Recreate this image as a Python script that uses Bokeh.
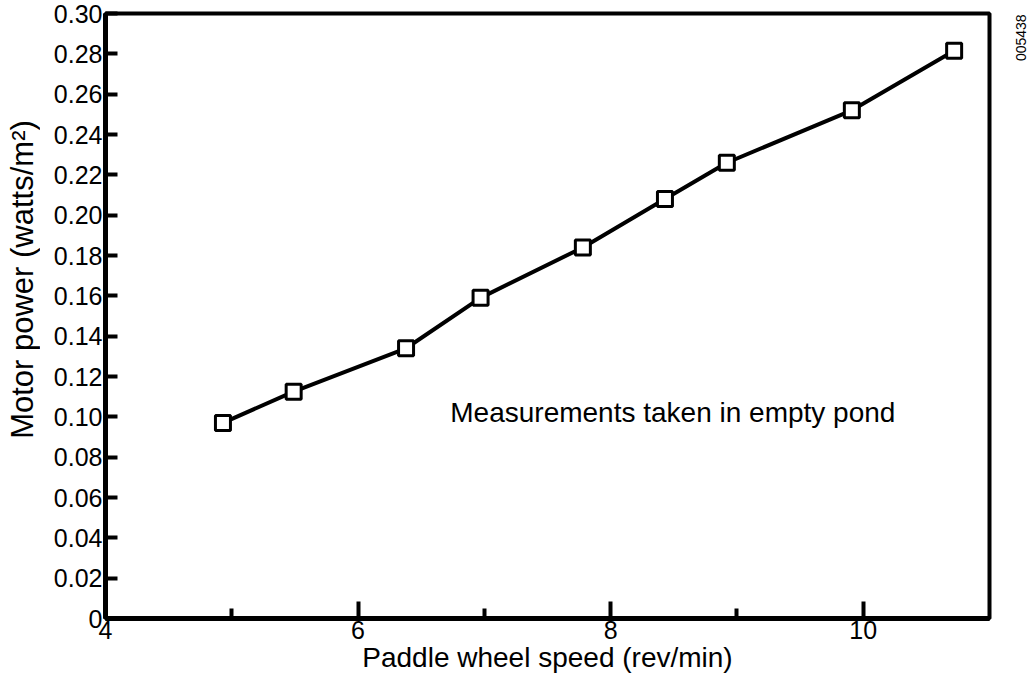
import math
from bokeh.plotting import figure
from bokeh.layouts import row
from bokeh.models import Range1d, FixedTicker, Label, ColumnDataSource
from bokeh.embed import file_html
from bokeh.resources import INLINE

# Data
speed = [4.93, 5.49, 6.38, 6.97, 7.78, 8.43, 8.92, 9.91, 10.72]
power = [0.097, 0.1125, 0.134, 0.159, 0.184, 0.208, 0.226, 0.252, 0.2815]

x_major = [4, 6, 8, 10]
x_minor = [5, 7, 9]
y_ticks = [0, 0.02, 0.04, 0.06, 0.08, 0.10, 0.12, 0.14, 0.16, 0.18, 0.20, 0.22, 0.24, 0.26, 0.28, 0.30]
y_tick_labels = ["0", "0.02", "0.04", "0.06", "0.08", "0.10", "0.12", "0.14", "0.16", "0.18",
                 "0.20", "0.22", "0.24", "0.26", "0.28", "0.30"]
x_title = "Paddle wheel speed (rev/min)"
y_title = "Motor power (watts/m²)"
note = "Measurements taken in empty pond"
figure_code = "005438"

FONT = "Liberation Sans"
H = 680

p = figure(width=965, height=H, output_backend="svg", toolbar_location=None,
           x_range=Range1d(4, 11), y_range=Range1d(0, 0.30),
           min_border_left=65, min_border_right=16, min_border_top=13, min_border_bottom=62)

p.xgrid.visible = False
p.ygrid.visible = False
p.outline_line_color = "black"
p.outline_line_width = 4
p.background_fill_color = "white"
p.border_fill_color = "white"

# X axis
p.xaxis.ticker = FixedTicker(ticks=x_major, minor_ticks=x_minor)
p.xaxis.axis_label = x_title
p.xaxis.major_tick_in = 17
p.xaxis.major_tick_out = 0
p.xaxis.minor_tick_in = 10
p.xaxis.minor_tick_out = 0
p.xaxis.major_tick_line_width = 4
p.xaxis.minor_tick_line_width = 4
p.xaxis.minor_tick_line_color = "black"
p.xaxis.major_label_standoff = 2
p.xaxis.axis_label_standoff = 0
p.xaxis.axis_label_text_font_size = "28px"

# Y axis (its title is drawn in a strip to the left, placed like the reference)
p.yaxis.ticker = FixedTicker(ticks=y_ticks)
p.yaxis.major_label_overrides = {t: l for t, l in zip(y_ticks, y_tick_labels)}
p.yaxis.major_tick_in = 12
p.yaxis.major_tick_out = 0
p.yaxis.minor_tick_line_color = None
p.yaxis.major_tick_line_width = 4
p.yaxis.major_label_standoff = 3

for ax in (p.xaxis, p.yaxis):
    ax.axis_line_width = 5
    ax.axis_line_color = "black"
    ax.major_tick_line_color = "black"
    ax.major_label_text_font = FONT
    ax.major_label_text_font_size = "25px"
    ax.major_label_text_color = "black"
    ax.axis_label_text_font = FONT
    ax.axis_label_text_font_style = "normal"
    ax.axis_label_text_color = "black"

src = ColumnDataSource(dict(x=speed, y=power))
p.line("x", "y", source=src, line_color="black", line_width=4)
p.scatter("x", "y", source=src, marker="square", size=15, fill_color="white",
          line_color="black", line_width=3)

p.add_layout(Label(x=6.73, y=0.102, text=note,
                   text_font=FONT, text_font_size="28px", text_color="black",
                   text_align="left", text_baseline="middle"))


def strip(width):
    s = figure(width=width, height=H, output_backend="svg", toolbar_location=None,
               x_range=Range1d(0, width), y_range=Range1d(0, H), min_border=0)
    s.axis.visible = False
    s.xgrid.visible = False
    s.ygrid.visible = False
    s.outline_line_color = None
    return s


# left strip: y-axis title
p_left = strip(40)
p_left.add_layout(Label(x=22, y=H - 299, text=y_title, angle=math.pi / 2,
                        text_font=FONT, text_font_size="31px", text_color="black",
                        text_align="center", text_baseline="middle"))

# right strip: figure code printed at the right margin
p_right = strip(22)
p_right.add_layout(Label(x=15, y=H - 1, text=figure_code, angle=math.pi / 2,
                         text_font=FONT, text_font_size="14px", text_color="black",
                         text_align="right", text_baseline="middle"))

layout = row(p_left, p, p_right, spacing=0)

open("out.html", "w").write(file_html(layout, INLINE))
